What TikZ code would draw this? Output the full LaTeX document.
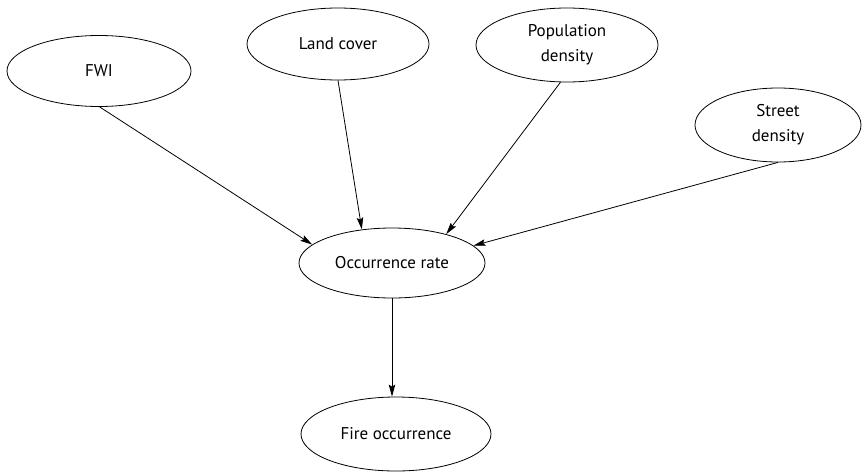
\documentclass[tikz,border=0pt]{standalone}
\usepackage{fontspec}
\setmainfont{PT Sans}
\usetikzlibrary{arrows.meta,shapes.geometric}
\begin{document}
\begin{tikzpicture}[x=1pt,y=-1pt,
  ell/.style={draw,ellipse,inner sep=0pt,line width=0.8pt,font=\fontsize{17}{25}\selectfont,align=center},
  conn/.style={line width=0.8pt,-{Stealth[length=12pt,width=6.5pt,inset=2pt]}}]
\useasboundingbox (0,0) rectangle (867,471);
\node[ell,minimum width=184pt,minimum height=71pt] (fwi) at (99,71) {FWI};
\node[ell,minimum width=182pt,minimum height=72pt] (land) at (338,44) {Land cover};
\node[ell,minimum width=182pt,minimum height=74pt] (pop) at (567,45) {Population\\density};
\node[ell,minimum width=166pt,minimum height=74pt] (street) at (778,125) {Street\\density};
\node[ell,minimum width=186pt,minimum height=70pt] (occ) at (392,263) {Occurrence rate};
\node[ell,minimum width=190pt,minimum height=74pt] (fire) at (396,434) {Fire occurrence};
\draw[conn] (fwi.-89) -- (occ.167.7);
\draw[conn] (land.south) -- (occ.132);
\draw[conn] (pop.-100) -- (occ.28.5);
\draw[conn] (street.south) -- (occ.12);
\draw[conn] (occ.south) -- (occ.south |- fire.north);
\end{tikzpicture}
\end{document}
